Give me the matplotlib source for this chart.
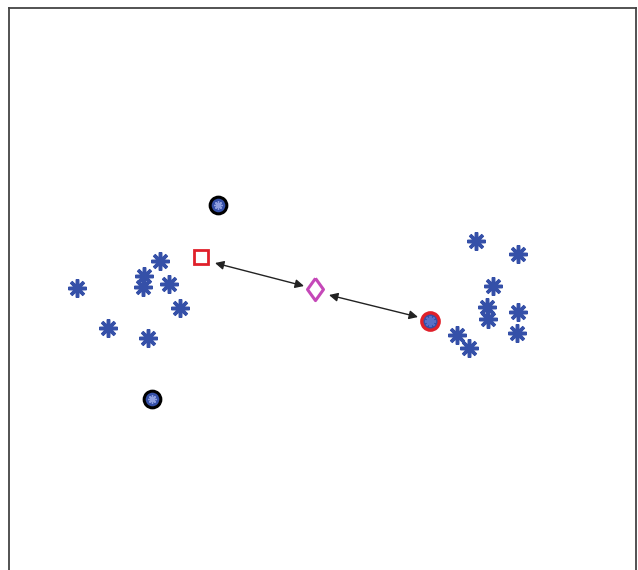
import matplotlib
matplotlib.use("Agg")
import matplotlib.pyplot as plt

# Cluster members (x, y) in plane coordinates (y grows downward)
left_x = [160, 144, 143, 169, 77, 180, 108, 148]
left_y = [261, 276, 287, 284, 288, 308, 328, 338]
right_x = [476, 518, 493, 487, 488, 518, 517, 457, 469]
right_y = [241, 254, 286, 307, 319, 312, 333, 335, 348]

# Special points
outlier_x = [218, 152]
outlier_y = [205, 399]
square_pt = (201, 257)
diamond_pt = (315, 289)
ringed_pt = (430, 321)

# Arrow endpoints
arrow_pairs = [((215, 263), (304, 286)), ((329, 295), (418, 317))]

BLUE = "#3550a8"

fig = plt.figure(figsize=(6.38, 5.70), dpi=100)
ax = fig.add_axes([9 / 638, -20 / 570, 627 / 638, 582 / 570])
ax.set_xlim(9, 636)
ax.set_ylim(590, 8)
ax.set_xticks([])
ax.set_yticks([])
for side in ("top", "left", "right"):
    ax.spines[side].set_color("#444444")
    ax.spines[side].set_linewidth(1.3)
ax.spines["bottom"].set_visible(False)

star = (8, 2, 0)
ax.plot(left_x + right_x, left_y + right_y, linestyle="none", marker=star,
        markersize=13, markeredgewidth=2.5, color=BLUE)

# Outliers: black ring around a blue point
ax.plot(outlier_x, outlier_y, linestyle="none", marker="o", markersize=12,
        markerfacecolor=BLUE, markeredgecolor="black", markeredgewidth=2.2)
ax.plot(outlier_x, outlier_y, linestyle="none", marker=star, markersize=6,
        markeredgewidth=1.0, color="#8fa0e0")

# Ringed cluster point
ax.plot([ringed_pt[0]], [ringed_pt[1]], marker="o", markersize=12.5,
        markerfacecolor=BLUE, markeredgecolor="#e0202a", markeredgewidth=2.4)
ax.plot([ringed_pt[0]], [ringed_pt[1]], marker=star, markersize=8,
        markeredgewidth=1.4, color="#5a70c8")

ax.plot([square_pt[0]], [square_pt[1]], marker="s", markersize=9.5,
        markerfacecolor="white", markeredgecolor="#e0202a", markeredgewidth=2.0)

diamond = [(0, 1), (0.72, 0), (0, -1), (-0.72, 0), (0, 1)]
ax.plot([diamond_pt[0]], [diamond_pt[1]], marker=diamond, markersize=16,
        markerfacecolor="white", markeredgecolor="#c548b8", markeredgewidth=2.2)

for (x0, y0), (x1, y1) in arrow_pairs:
    ax.annotate("", xy=(x1, y1), xytext=(x0, y0),
                arrowprops=dict(arrowstyle="<|-|>", color="#222222", lw=1.0,
                                mutation_scale=13, shrinkA=0, shrinkB=0))

fig.savefig("out.png", dpi=100)
